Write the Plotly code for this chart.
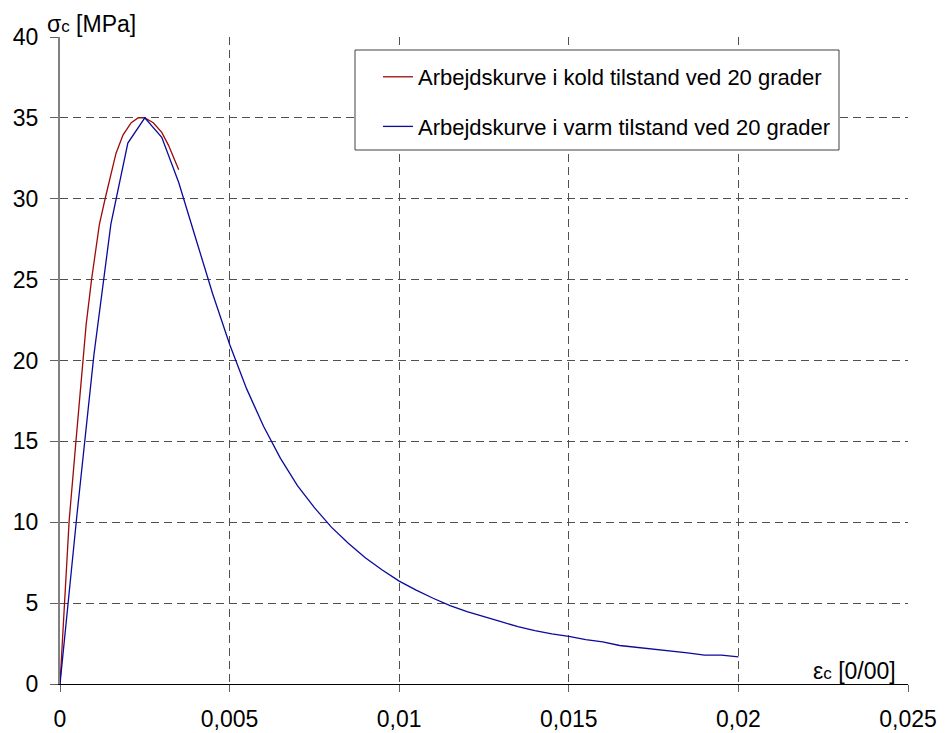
import plotly.graph_objects as go

# Stress-strain working curves for concrete at 20 degrees
strain_cold = [0, 0.00027, 0.00047, 0.00067, 0.00077, 0.00093, 0.00116, 0.00133,
               0.0015, 0.00165, 0.00186, 0.0021, 0.0023, 0.0025, 0.00275, 0.003,
               0.0032, 0.0035]
stress_cold = [0, 10.1, 15.0, 20.0, 22.2, 25.0, 28.4, 30.0,
               31.5, 32.8, 33.95, 34.7, 35.0, 35.0, 34.7, 34.1,
               33.3, 31.8]

strain_warm = [0, 0.0005, 0.001, 0.0015, 0.002, 0.0025, 0.003, 0.0035, 0.004,
               0.0045, 0.005, 0.0055, 0.006, 0.0065, 0.007, 0.0075, 0.008,
               0.0085, 0.009, 0.0095, 0.01, 0.0105, 0.011, 0.0115, 0.012,
               0.0125, 0.013, 0.0135, 0.014, 0.0145, 0.015, 0.0155, 0.016,
               0.0165, 0.017, 0.0175, 0.018, 0.0185, 0.019, 0.0195, 0.02]
stress_warm = [0, 10.46, 20.35, 28.43, 33.44, 35.0, 33.8, 31.0, 27.56,
               24.13, 21.0, 18.26, 15.93, 13.95, 12.27, 10.9, 9.7,
               8.7, 7.8, 7.05, 6.36, 5.8, 5.3, 4.85, 4.48,
               4.15, 3.85, 3.55, 3.3, 3.1, 2.95, 2.75, 2.6,
               2.38, 2.27, 2.15, 2.03, 1.92, 1.78, 1.78, 1.68]

x_tickvals = [0, 0.005, 0.01, 0.015, 0.02, 0.025]
x_ticktext = ["0", "0,005", "0,01", "0,015", "0,02", "0,025"]
y_tickvals = [0, 5, 10, 15, 20, 25, 30, 35, 40]

name_cold = "Arbejdskurve i kold tilstand ved 20 grader"
name_warm = "Arbejdskurve i varm tilstand ved 20 grader"

FONT = "Liberation Sans, Arial, sans-serif"
GRID = "#505050"

# plot-area geometry in pixels (used for paper coordinates of decorations)
L, R, T, B = 60, 908, 37, 684
W, H = R - L, B - T


def px(x):
    return (x - L) / W


def py(y):
    return (B - y) / H


fig = go.Figure()
fig.add_trace(go.Scatter(x=strain_cold, y=stress_cold, mode="lines", name=name_cold,
                         legendgroup="a",
                         line=dict(color="#9c0a0a", width=1.3)))
fig.add_trace(go.Scatter(x=strain_warm, y=stress_warm, mode="lines", name=name_warm,
                         legendgroup="b",
                         line=dict(color="#0a0a9c", width=1.3)))

# legend frame
fig.add_shape(type="rect", xref="paper", yref="paper",
              x0=px(355), x1=px(839), y0=py(150), y1=py(50),
              line=dict(color="#404040", width=1), fillcolor="white", layer="above")

fig.add_annotation(text="σ<span style='font-size:17px'>c</span> [MPa]",
                   xref="paper", yref="paper", x=px(45), y=py(39),
                   xanchor="left", yanchor="bottom", showarrow=False,
                   font=dict(family=FONT, size=23, color="black"))
fig.add_annotation(text="ε<span style='font-size:17px'>c</span> [0/00]",
                   xref="paper", yref="paper", x=px(898), y=py(671),
                   xanchor="right", yanchor="middle", showarrow=False,
                   font=dict(family=FONT, size=23, color="black"))

fig.update_layout(
    width=946, height=733,
    margin=dict(l=L, r=946 - R, t=T, b=733 - B, autoexpand=False),
    paper_bgcolor="white", plot_bgcolor="white",
    font=dict(family=FONT, size=23, color="black"),
    showlegend=True,
    legend=dict(x=px(378), y=py(56), xanchor="left", yanchor="top",
                bgcolor="rgba(0,0,0,0)", borderwidth=0,
                font=dict(family=FONT, size=22, color="black"),
                tracegroupgap=18, traceorder="grouped"),
    xaxis=dict(range=[0, 0.025], tickvals=x_tickvals, ticktext=x_ticktext,
               showline=True, linecolor="black", linewidth=1,
               ticks="outside", ticklen=7, tickcolor="#606060", tickwidth=1,
               showgrid=True, gridcolor=GRID, gridwidth=1, griddash="8px,5px",
               zeroline=False, ticklabelstandoff=7, automargin=False),
    yaxis=dict(range=[0, 40], tickvals=y_tickvals,
               showline=True, linecolor="#808080", linewidth=2,
               ticks="outside", ticklen=8, tickcolor="#606060", tickwidth=1,
               showgrid=True, gridcolor=GRID, gridwidth=1, griddash="8px,5px",
               zeroline=False, ticklabelstandoff=7, automargin=False),
)

fig.write_html("out.html")
